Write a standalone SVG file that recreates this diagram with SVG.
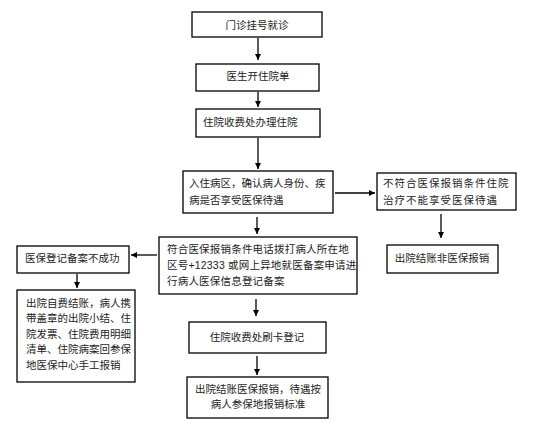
<svg xmlns="http://www.w3.org/2000/svg" width="536" height="448" viewBox="0 0 536 448">
<defs>
<marker id="ah" viewBox="0 0 10 10" refX="10" refY="5" markerWidth="6" markerHeight="6" orient="auto" markerUnits="userSpaceOnUse"><path d="M0,0 L10,5 L0,10 z" fill="#000"/></marker>
<style>
.b{fill:#fff;stroke:#000;stroke-width:1.3}
.t{font-family:"Liberation Sans","Noto Sans CJK SC",sans-serif;font-size:10.5px;fill:#222}
.c{text-anchor:middle}
.e{stroke:#000;stroke-width:1.3;fill:none;marker-end:url(#ah)}
</style>
</defs>
<rect width="536" height="448" fill="#fff"/>
<g id="n1"><rect class="b" x="192" y="12" width="130" height="25"/><text class="t c" x="257" y="29">门诊挂号就诊</text></g>
<g id="n2"><rect class="b" x="196" y="64" width="123" height="27"/><text class="t c" x="258" y="80">医生开住院单</text></g>
<g id="n3"><rect class="b" x="196" y="109" width="124" height="28"/><text class="t" x="203" y="126">住院收费处办理住院</text></g>
<g id="n4"><rect class="b" x="183" y="171" width="150" height="42"/><text class="t" x="189" y="187">入住病区，确认病人身份、疾</text><text class="t" x="189" y="204">病是否享受医保待遇</text></g>
<g id="n5"><rect class="b" x="377" y="173" width="139" height="37"/><text class="t" x="383" y="187" letter-spacing="1">不符合医保报销条件住院</text><text class="t" x="383" y="204" letter-spacing="1">治疗不能享受医保待遇</text></g>
<g id="n6"><rect class="b" x="387" y="245" width="111" height="28"/><text class="t c" x="442" y="262">出院结账非医保报销</text></g>
<g id="n7"><rect class="b" x="159" y="237" width="198" height="57"/><text class="t" x="167" y="253" letter-spacing="0.2">符合医保报销条件电话拨打病人所在地</text><text class="t" x="167" y="269" letter-spacing="0.2">区号+12333 或网上异地就医备案申请进</text><text class="t" x="167" y="285" letter-spacing="0.2">行病人医保信息登记备案</text></g>
<g id="n8"><rect class="b" x="17" y="246" width="112" height="27"/><text class="t" x="25" y="262">医保登记备案不成功</text></g>
<g id="n9"><rect class="b" x="17" y="290" width="118" height="92"/><text class="t" x="26" y="307">出院自费结账，病人携</text><text class="t" x="26" y="322">带盖章的出院小结、住</text><text class="t" x="26" y="338">院发票、住院费用明细</text><text class="t" x="26" y="353">清单、住院病案回参保</text><text class="t" x="26" y="369">地医保中心手工报销</text></g>
<g id="n10"><rect class="b" x="189" y="322" width="137" height="31"/><text class="t c" x="257" y="341">住院收费处刷卡登记</text></g>
<g id="n11"><rect class="b" x="187" y="377" width="141" height="41"/><text class="t c" x="258" y="393">出院结账医保报销，待遇按</text><text class="t c" x="258" y="408">病人参保地报销标准</text></g>
<g id="edges">
<line class="e" x1="258" y1="38" x2="258" y2="60"/>
<line class="e" x1="258" y1="92" x2="258" y2="107"/>
<line class="e" x1="258" y1="138" x2="258" y2="169"/>
<line class="e" x1="335" y1="193" x2="375" y2="193"/>
<line class="e" x1="441" y1="214" x2="441" y2="238"/>
<line class="e" x1="257" y1="217" x2="257" y2="234"/>
<line class="e" x1="157" y1="255" x2="131" y2="255"/>
<line class="e" x1="77" y1="274" x2="77" y2="288"/>
<line class="e" x1="256" y1="299" x2="256" y2="316"/>
<line class="e" x1="257" y1="356" x2="257" y2="375"/>
</g>
</svg>
